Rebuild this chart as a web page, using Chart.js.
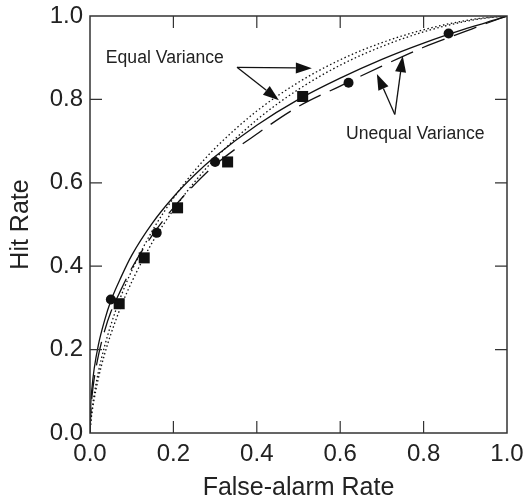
<!DOCTYPE html>
<html>
<head>
<meta charset="utf-8">
<script src="https://cdn.jsdelivr.net/npm/chart.js@4.4.0/dist/chart.umd.min.js"></script>
<style>
  html, body { margin: 0; padding: 0; background: #fff; }
  #wrap { width: 525px; height: 503px; }
</style>
</head>
<body>
<div id="wrap"><canvas id="roc" width="525" height="503"></canvas></div>
<script>
  // ROC curves, values
  var curveX = [0, 0.002, 0.005, 0.01, 0.02, 0.035, 0.05, 0.075, 0.1, 0.15, 0.2, 0.25, 0.3, 0.4, 0.5, 0.6, 0.7, 0.8, 0.9, 0.95, 1];
  var solidY = [0, 0.072, 0.111, 0.154, 0.211, 0.27, 0.317, 0.375, 0.426, 0.504, 0.566, 0.618, 0.663, 0.738, 0.80, 0.851, 0.896, 0.935, 0.969, 0.984, 1];
  var dashY  = [0, 0.05, 0.09, 0.13, 0.185, 0.245, 0.29, 0.345, 0.395, 0.475, 0.54, 0.595, 0.643, 0.717, 0.783, 0.832, 0.88, 0.925, 0.963, 0.982, 1];
  var dot1Y  = [0, 0.03, 0.058, 0.092, 0.146, 0.208, 0.259, 0.33, 0.389, 0.486, 0.563, 0.628, 0.683, 0.772, 0.841, 0.895, 0.936, 0.967, 0.989, 0.996, 1];
  var dot2Y  = [0, 0.026, 0.05, 0.081, 0.131, 0.189, 0.237, 0.305, 0.362, 0.458, 0.535, 0.601, 0.658, 0.751, 0.824, 0.882, 0.927, 0.962, 0.987, 0.995, 1];

  // observed points
  var circleX = [0.05, 0.16, 0.30, 0.62, 0.86];
  var circleY = [0.32, 0.48, 0.65, 0.84, 0.958];
  var squareX = [0.07, 0.13, 0.21, 0.33, 0.51];
  var squareY = [0.31, 0.42, 0.54, 0.65, 0.807];

  var tickValues = [0, 0.2, 0.4, 0.6, 0.8, 1.0];

  // labels and arrows, in data units
  var labelEqual   = { text: 'Equal Variance',   x: 0.038, y: 0.90 };
  var labelUnequal = { text: 'Unequal Variance', x: 0.614, y: 0.716 };
  var arrowsEqual   = { from: [0.3525, 0.877], to: [[0.532, 0.875], [0.453, 0.798]] };
  var arrowsUnequal = { from: [0.731, 0.764], to: [[0.688, 0.861], [0.750, 0.904]] };

  function pairs(xs, ys) {
    var out = [];
    for (var i = 0; i < xs.length; i++) out.push({ x: xs[i], y: ys[i] });
    return out;
  }

  function lineSet(data, dash) {
    return {
      data: data, showLine: true, pointRadius: 0, borderColor: '#111',
      borderWidth: 1.3, borderDash: dash, cubicInterpolationMode: 'monotone', fill: false
    };
  }

  function arrow(ctx, x0, y0, x1, y1) {
    var ang = Math.atan2(y1 - y0, x1 - x0);
    var len = 16, half = 5.5;
    var bx = x1 - Math.cos(ang) * len, by = y1 - Math.sin(ang) * len;
    ctx.beginPath();
    ctx.moveTo(x0, y0);
    ctx.lineTo(bx, by);
    ctx.stroke();
    ctx.beginPath();
    ctx.moveTo(x1, y1);
    ctx.lineTo(bx + Math.sin(ang) * half, by - Math.cos(ang) * half);
    ctx.lineTo(bx - Math.sin(ang) * half, by + Math.cos(ang) * half);
    ctx.closePath();
    ctx.fill();
  }

  // box, inward ticks, labels and arrows
  var decor = {
    id: 'decor',
    afterDatasetsDraw: function(chart) {
      var ctx = chart.ctx, xs = chart.scales.x, ys = chart.scales.y, a = chart.chartArea;
      ctx.save();
      ctx.strokeStyle = '#333';
      ctx.lineWidth = 1.5;
      ctx.strokeRect(a.left, a.top, a.right - a.left, a.bottom - a.top);
      ctx.lineWidth = 1.2;
      ctx.beginPath();
      for (var i = 1; i < tickValues.length - 1; i++) {
        var px = xs.getPixelForValue(tickValues[i]);
        var py = ys.getPixelForValue(tickValues[i]);
        ctx.moveTo(px, a.bottom); ctx.lineTo(px, a.bottom - 12);
        ctx.moveTo(px, a.top);    ctx.lineTo(px, a.top + 12);
        ctx.moveTo(a.left, py);   ctx.lineTo(a.left + 12, py);
        ctx.moveTo(a.right, py);  ctx.lineTo(a.right - 12, py);
      }
      ctx.stroke();

      ctx.fillStyle = '#222';
      ctx.font = '17.6px "Liberation Sans", Arial, sans-serif';
      ctx.textBaseline = 'middle';
      ctx.textAlign = 'left';
      [labelEqual, labelUnequal].forEach(function(l) {
        ctx.fillText(l.text, xs.getPixelForValue(l.x), ys.getPixelForValue(l.y));
      });

      ctx.strokeStyle = '#111';
      ctx.fillStyle = '#111';
      ctx.lineWidth = 1.3;
      [arrowsEqual, arrowsUnequal].forEach(function(g) {
        var x0 = xs.getPixelForValue(g.from[0]), y0 = ys.getPixelForValue(g.from[1]);
        g.to.forEach(function(t) {
          arrow(ctx, x0, y0, xs.getPixelForValue(t[0]), ys.getPixelForValue(t[1]));
        });
      });
      ctx.restore();
    }
  };

  var tickFont = { family: '"Liberation Sans", Arial, sans-serif', size: 24 };
  var titleFont = { family: '"Liberation Sans", Arial, sans-serif', size: 25 };

  function noPad(s) {
    s.paddingLeft = 0; s.paddingRight = 0; s.paddingTop = 0; s.paddingBottom = 0;
  }

  new Chart(document.getElementById('roc').getContext('2d'), {
    type: 'scatter',
    data: {
      datasets: [
        lineSet(pairs(curveX, solidY), []),
        lineSet(pairs(curveX, dashY), [24, 10]),
        lineSet(pairs(curveX, dot1Y), [1.5, 2.5]),
        lineSet(pairs(curveX, dot2Y), [1.5, 2.5]),
        {
          data: pairs(circleX, circleY), pointStyle: 'circle', pointRadius: 5,
          backgroundColor: '#111', borderColor: '#111', borderWidth: 0
        },
        {
          data: pairs(squareX, squareY), pointStyle: 'rect', pointRadius: 7.8,
          backgroundColor: '#111', borderColor: '#111', borderWidth: 0
        }
      ]
    },
    options: {
      responsive: false,
      animation: false,
      layout: { padding: { top: 16, right: 18, left: 0, bottom: 0 } },
      plugins: { legend: { display: false }, tooltip: { enabled: false } },
      scales: {
        x: {
          type: 'linear', min: 0, max: 1,
          afterFit: function(s) { s.height = 70; noPad(s); },
          afterBuildTicks: function(s) { s.ticks = tickValues.map(function(v) { return { value: v }; }); },
          grid: { display: false, drawTicks: false },
          border: { display: false },
          ticks: { color: '#222', font: tickFont, padding: 7, maxRotation: 0,
                   callback: function(v) { return v.toFixed(1); } },
          title: { display: true, text: 'False-alarm Rate', color: '#222', font: titleFont, padding: 0 }
        },
        y: {
          type: 'linear', min: 0, max: 1,
          afterFit: function(s) { s.width = 90; noPad(s); },
          afterBuildTicks: function(s) { s.ticks = tickValues.map(function(v) { return { value: v }; }); },
          grid: { display: false, drawTicks: false },
          border: { display: false },
          ticks: { color: '#222', font: tickFont, padding: 7,
                   callback: function(v) { return v.toFixed(1); } },
          title: { display: true, text: 'Hit Rate', color: '#222', font: titleFont, padding: { top: 6, bottom: 0 } }
        }
      }
    },
    plugins: [decor]
  });
</script>
</body>
</html>
